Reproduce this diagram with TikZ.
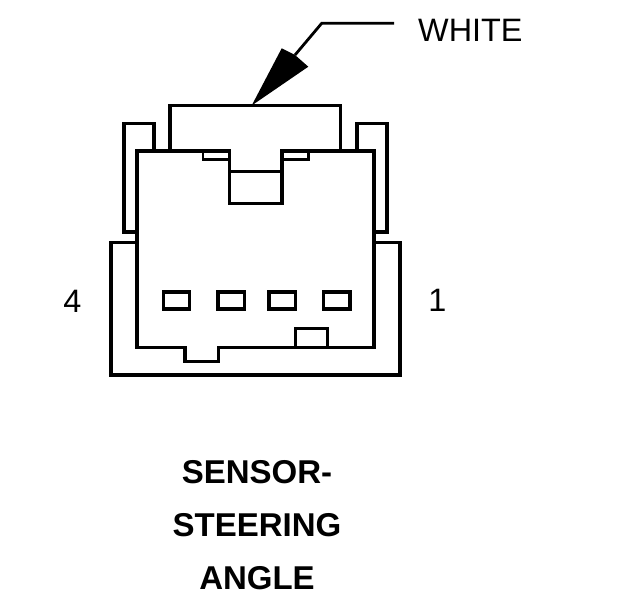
\documentclass[tikz,border=0pt]{standalone}
\usepackage{fontspec}
\setmainfont{Liberation Sans}
\tikzset{
  wire/.style={draw=black,line width=3.4pt,line join=miter,line cap=butt},
  thin wire/.style={draw=black,line width=2.6pt},
  pin/.style={draw=black,line width=3.4pt},
  label text/.style={font=\fontsize{32.4}{36}\selectfont,inner sep=0pt,anchor=center},
  title text/.style={font=\fontsize{33}{36}\selectfont\bfseries,inner sep=0pt,anchor=center}
}
\begin{document}
\begin{tikzpicture}[x=1pt,y=-1pt]
\useasboundingbox (0,0) rectangle (624,600);
\fill[white] (0,0) rectangle (624,600);
% outer shell
\draw[wire] (137,242.7) -- (111,242.7) -- (111,375) -- (400,375) -- (400,242.7) -- (374,242.7);
% ears
\draw[wire] (137,232) -- (124,232) -- (124,123.7) -- (154,123.7) -- (154,151);
\draw[wire] (374,232) -- (387,232) -- (387,123.7) -- (357,123.7) -- (357,151);
% top tab
\draw[wire] (170,151) -- (170,105.7) -- (340.7,105.7) -- (340.7,151);
% body
\draw[wire] (229.3,151) -- (137,151) -- (137,347.7) -- (185,347.7) -- (185,361.7) -- (218.3,361.7) -- (218.3,347.7) -- (374,347.7) -- (374,151) -- (282,151) -- (282,203.3) -- (229.3,203.3) -- cycle;
\draw[wire] (229.3,171.7) -- (282,171.7);
% small slots
\draw[thin wire] (203,151) -- (203,159.3) -- (229.3,159.3);
\draw[thin wire] (282,159.3) -- (308.7,159.3) -- (308.7,151);
% key
\draw[wire] (295.7,347.7) -- (295.7,328.3) -- (327.7,328.3) -- (327.7,347.7);
% pins
\draw[pin] (163.6,292) rectangle (189.6,308.8);
\draw[pin] (218,292) rectangle (244.5,308.8);
\draw[pin] (269,292) rectangle (295.5,308.8);
\draw[pin] (323.6,292) rectangle (350,308.8);
% leader
\coordinate (leadEnd) at (394,23.3);
\coordinate (leadBend) at (321.7,23.3);
\coordinate (leadHead) at (295,55);
\coordinate (tip) at (251.7,105.5);
\draw[line width=2.8pt,line join=miter] (leadEnd) -- (leadBend) -- (leadHead);
\fill[black] (tip) -- (281.7,48.3) -- (leadHead) -- (308.3,66.7) -- cycle;
% labels
\node[label text,anchor=west] (white) at (418,30.5) {WHITE};
\node[label text] (four) at (72.5,301) {4};
\node[label text] (one) at (437.5,300.5) {1};
\node[title text] (t1) at (257,472.5) {SENSOR-};
\node[title text] (t2) at (257,525.5) {STEERING};
\node[title text] (t3) at (257,578.5) {ANGLE};
\end{tikzpicture}
\end{document}
